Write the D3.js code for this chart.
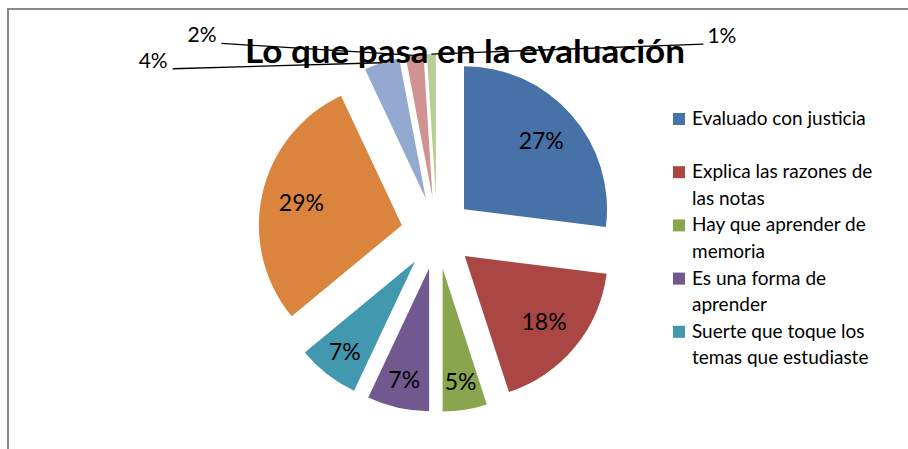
<!DOCTYPE html>
<html>
<head>
<meta charset="utf-8">
<script src="https://cdn.jsdelivr.net/npm/d3@7"></script>
<style>
  body { margin: 0; background: #fff; }
  svg { display: block; font-family: Lato, "Open Sans", sans-serif; }
</style>
</head>
<body>
<svg width="908" height="449"></svg>
<script>
// valores en porcentaje, en el orden del gráfico (empieza arriba, sentido horario)
var values = [27, 18, 5, 7, 7, 29, 4, 2, 1];
var colors = ["#4672A8", "#AA4643", "#89A54E", "#71588F", "#4198AF",
              "#DB843D", "#93A9CF", "#D19392", "#B9CD96"];
// solo las cinco primeras categorías caben en la leyenda
var categories = ["Evaluado con justicia", "Explica las razones de las notas",
                  "Hay que aprender de memoria", "Es una forma de aprender",
                  "Suerte que toque los temas que estudiaste"];
var title = "Lo que pasa en la evaluación";

var svg = d3.select("svg");

// marco del gráfico
svg.append("rect")
    .attr("x", 8).attr("y", 9)
    .attr("width", 940).attr("height", 480)
    .attr("fill", "none")
    .attr("stroke", "#888")
    .attr("stroke-width", 2);

var cx = 437, cy = 233, r = 143, explode = 36;

var pie = d3.pie().sort(null).value(function(d) { return d; });
var arcs = pie(values);
var arc = d3.arc().innerRadius(0).outerRadius(r);

function mid(d) { return (d.startAngle + d.endAngle) / 2; }
function shift(d) {
    var a = mid(d);
    return [Math.sin(a) * explode, -Math.cos(a) * explode];
}

var g = svg.append("g").attr("transform", "translate(" + cx + "," + cy + ")");

g.selectAll("path.slice")
    .data(arcs)
    .enter().append("path")
    .attr("class", "slice")
    .attr("d", arc)
    .attr("fill", function(d, i) { return colors[i]; })
    .attr("transform", function(d) { return "translate(" + shift(d) + ")"; });

// título
svg.append("text")
    .attr("x", 465).attr("y", 63)
    .attr("text-anchor", "middle")
    .attr("font-weight", "bold")
    .attr("font-size", 32)
    .attr("textLength", 440)
    .attr("lengthAdjust", "spacingAndGlyphs")
    .text(title);

// etiquetas dentro de las porciones
g.selectAll("text.inside")
    .data(arcs.filter(function(d) { return d.data >= 5; }))
    .enter().append("text")
    .attr("class", "inside")
    .attr("text-anchor", "middle")
    .attr("dy", "0.35em")
    .attr("font-size", 23)
    .attr("transform", function(d) {
        var s = shift(d), a = mid(d);
        var lr = r * (d.data >= 15 ? 0.72 : 0.8);
        return "translate(" + (s[0] + Math.sin(a) * lr) + "," + (s[1] - Math.cos(a) * lr) + ")";
    })
    .text(function(d) { return d.data + "%"; });

// etiquetas fuera con líneas guía (porciones pequeñas)
var outside = arcs.filter(function(d) { return d.data < 5; });
var leaderOffsets = [[-209, 6], [-193, -12], [272, -10]];

outside.forEach(function(d, k) {
    var s = shift(d), a = mid(d);
    var px = s[0] + Math.sin(a) * r, py = s[1] - Math.cos(a) * r;
    var ox = px + leaderOffsets[k][0], oy = py + leaderOffsets[k][1];
    g.append("line")
        .attr("x1", px).attr("y1", py)
        .attr("x2", ox).attr("y2", oy)
        .attr("stroke", "#000")
        .attr("stroke-width", 1.3);
    var right = leaderOffsets[k][0] > 0;
    g.append("text")
        .attr("x", ox + (right ? 4 : -5))
        .attr("y", oy - 1)
        .attr("text-anchor", right ? "start" : "end")
        .attr("font-size", 21)
        .text(d.data + "%");
});

// leyenda
var legend = svg.append("g").attr("transform", "translate(673,119)");
var maxW = 192;

categories.forEach(function(name, i) {
    var row = legend.append("g").attr("transform", "translate(0," + (i * 53.2) + ")");
    row.append("rect")
        .attr("x", 0).attr("y", -6)
        .attr("width", 12).attr("height", 12)
        .attr("fill", colors[i]);
    var t = row.append("text")
        .attr("x", 19)
        .attr("font-size", 19)
        .attr("fill", "#000");
    var words = name.split(" "), line = [], lineNo = 0;
    var ts = t.append("tspan").attr("x", 19).attr("y", 6);
    words.forEach(function(w) {
        line.push(w);
        ts.text(line.join(" "));
        if (ts.node().getComputedTextLength() > maxW && line.length > 1) {
            line.pop();
            ts.text(line.join(" "));
            line = [w];
            lineNo++;
            ts = t.append("tspan").attr("x", 19).attr("y", 6 + lineNo * 26.5).text(w);
        }
    });
});
</script>
</body>
</html>
